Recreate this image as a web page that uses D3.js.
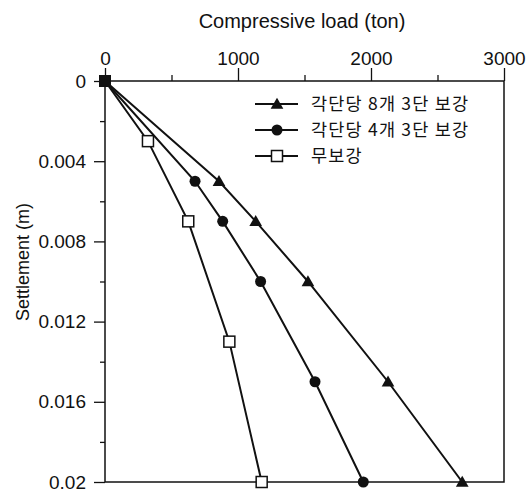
<!DOCTYPE html>
<html><head><meta charset="utf-8">
<script src="https://cdn.jsdelivr.net/npm/d3@7"></script>
<style>
body{margin:0;background:#fff;}
text{font-family:"Liberation Sans",Arial,sans-serif;fill:#111;}
.kr{font-family:"Noto Sans CJK KR",sans-serif;}
</style></head>
<body><svg id="c" width="532" height="494"></svg>
<script>
const seriesNames = ["각단당 8개 3단 보강", "각단당 4개 3단 보강", "무보강"];
const loadTri = [0, 857, 1133, 1526, 2128, 2686];
const settleTri = [0, 0.005, 0.007, 0.010, 0.015, 0.020];
const loadCirc = [0, 677, 885, 1170, 1579, 1942];
const settleCirc = [0, 0.005, 0.007, 0.010, 0.015, 0.020];
const loadSq = [0, 323, 626, 935, 1178];
const settleSq = [0, 0.003, 0.007, 0.013, 0.020];
const xTickValues = [0, 500, 1000, 1500, 2000, 2500, 3000];
const xTickLabels = ["0", "", "1000", "", "2000", "", "3000"];
const yTickValues = [0, 0.002, 0.004, 0.006, 0.008, 0.010, 0.012, 0.014, 0.016, 0.018, 0.020];
const yTickLabels = ["0", "", "0.004", "", "0.008", "", "0.012", "", "0.016", "", "0.02"];

const svg = d3.select("#c");
const x = d3.scaleLinear().domain([0, 3000]).range([105, 504]);
const y = d3.scaleLinear().domain([0, 0.02]).range([81, 482]);

// frame
svg.append("rect").attr("x", x(0)).attr("y", y(0)).attr("width", x(3000) - x(0)).attr("height", y(0.02) - y(0))
  .attr("fill", "none").attr("stroke", "#111").attr("stroke-width", 1.5);

// top axis
const gx = svg.append("g").attr("transform", `translate(0,${y(0)})`)
  .call(d3.axisTop(x).tickValues(xTickValues).tickSize(0).tickFormat((d, i) => xTickLabels[i]).tickPadding(16));
gx.select(".domain").remove();
gx.selectAll(".tick line").remove();
gx.selectAll(".tick").append("line").attr("y1", 0).attr("y2", (d, i) => xTickLabels[i] ? -13 : -6)
  .attr("stroke", "#111").attr("stroke-width", 1.3);
gx.selectAll("text").style("font-size", "19px").attr("fill", "#111");

// left axis
const gy = svg.append("g").attr("transform", `translate(${x(0)},0)`)
  .call(d3.axisLeft(y).tickValues(yTickValues).tickSize(0).tickFormat((d, i) => yTickLabels[i]).tickPadding(19));
gy.select(".domain").remove();
gy.selectAll(".tick line").remove();
gy.selectAll(".tick").append("line").attr("x1", 0).attr("x2", (d, i) => yTickLabels[i] ? -11 : -5)
  .attr("stroke", "#111").attr("stroke-width", 1.3);
gy.selectAll("text").style("font-size", "19px").attr("fill", "#111");

// axis titles
svg.append("text").attr("x", 302).attr("y", 28).attr("text-anchor", "middle").style("font-size", "20px")
  .text("Compressive load (ton)");
svg.append("text").attr("transform", "translate(29,262) rotate(-90)").attr("text-anchor", "middle")
  .style("font-size", "18px").text("Settlement (m)");

const series = [
  {xs: loadTri, ys: settleTri, m: "tri"},
  {xs: loadCirc, ys: settleCirc, m: "circ"},
  {xs: loadSq, ys: settleSq, m: "sq"}
];
const line = d3.line().x(d => x(d[0])).y(d => y(d[1]));

function marker(g, type, cx, cy) {
  if (type === "tri") {
    g.append("path").attr("d", d3.symbol(d3.symbolTriangle, 70)()).attr("transform", `translate(${cx},${cy + 1})`)
      .attr("fill", "#111");
  } else if (type === "circ") {
    g.append("circle").attr("cx", cx).attr("cy", cy).attr("r", 5.5).attr("fill", "#111");
  } else {
    g.append("rect").attr("x", cx - 5.5).attr("y", cy - 5.5).attr("width", 11).attr("height", 11)
      .attr("fill", "#fff").attr("stroke", "#111").attr("stroke-width", 1.5);
  }
}

series.forEach(s => {
  const pts = s.xs.map((v, i) => [v, s.ys[i]]);
  svg.append("path").attr("d", line(pts)).attr("fill", "none").attr("stroke", "#111").attr("stroke-width", 2);
});
series.forEach(s => {
  const g = svg.append("g");
  s.xs.forEach((v, i) => {
    if (i === 0) return;
    marker(g, s.m, x(v), y(s.ys[i]));
  });
});
// origin marker (filled square as in reference)
svg.append("rect").attr("x", x(0) - 6).attr("y", y(0) - 6).attr("width", 12).attr("height", 12).attr("fill", "#111");

// legend
const legY = [104, 130, 156];
const lg = svg.append("g");
series.forEach((s, i) => {
  lg.append("line").attr("x1", 255).attr("x2", 298).attr("y1", legY[i]).attr("y2", legY[i])
    .attr("stroke", "#111").attr("stroke-width", 2);
  marker(lg, s.m, 277, legY[i]);
  lg.append("text").attr("class", "kr").attr("x", 311).attr("y", legY[i]).attr("dy", "0.36em")
    .style("font-size", "17.5px").style("letter-spacing", "1.2px").text(seriesNames[i]);
});
</script></body></html>
